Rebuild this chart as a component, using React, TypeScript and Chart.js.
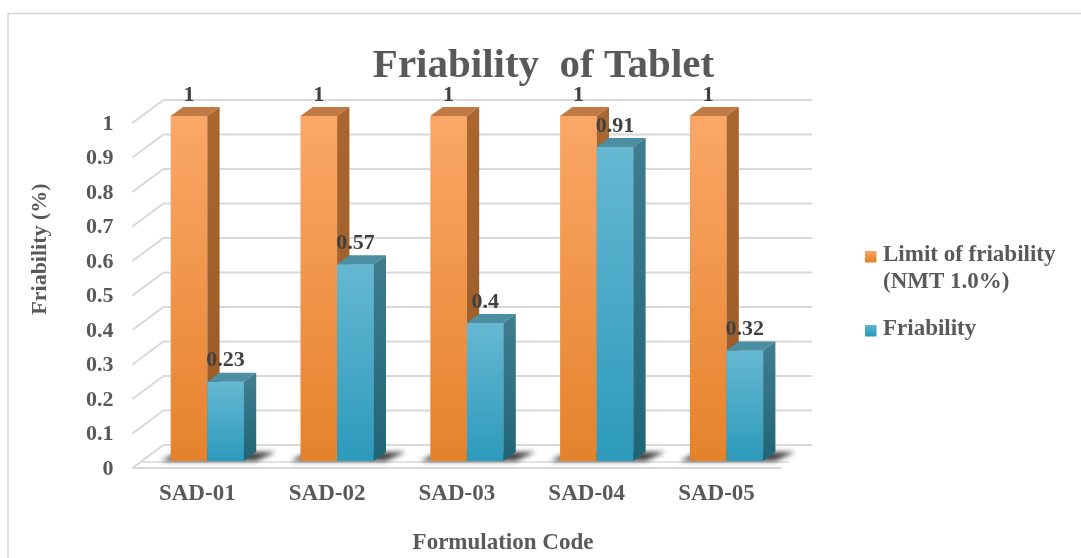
import { useEffect, useRef } from "react";
import { Chart, registerables } from "chart.js";

Chart.register(...registerables);

// ---- data ----
const categories = ["SAD-01", "SAD-02", "SAD-03", "SAD-04", "SAD-05"];
const limitValues = [1, 1, 1, 1, 1];
const friabilityValues = [0.23, 0.57, 0.4, 0.91, 0.32];
const seriesNames = ["Limit of friability (NMT 1.0%)", "Friability"];
const legendLines = [["Limit of friability", "(NMT 1.0%)"], ["Friability"]];
const titleText = "Friability  of Tablet";
const xTitle = "Formulation Code";
const yTitle = "Friability (%)";

// ---- styling ----
const FONT = '"Liberation Serif", "Times New Roman", serif';
const TEXT = "#595959";
const LABEL = "#404040";
const GRID = "#D9D9D9";

const ORANGE = { top: "#FBA767", bottom: "#E5822C", cap: "#C27A44", sideTop: "#A9662F", sideBottom: "#9A5A26" };
const BLUE = { top: "#66B8D2", bottom: "#2C9ABC", cap: "#4C8EA2", sideTop: "#3E7C8E", sideBottom: "#206577" };

// depth of each bar (top / side faces)
const BAR_DX = 12.3;
const BAR_DY = -9;
// wall depth and the shift of the front plane from the bar plane
const WALL_DX = 31;
const WALL_DY = -23;
const FRONT_DX = -10;
const FRONT_DY = 7;

const CANVAS_W = 1081;
const CANVAS_H = 558;

function frontGradient(chart: any, value: number, c: { top: string; bottom: string }) {
  const ys = chart.scales.y;
  const top = ys.getPixelForValue(value);
  const bottom = ys.getPixelForValue(0);
  const g = chart.ctx.createLinearGradient(0, top, 0, bottom);
  g.addColorStop(0, c.top);
  g.addColorStop(1, c.bottom);
  return g;
}

function barColor(c: typeof ORANGE) {
  return (ctx: any) => {
    if (!ctx.chart.chartArea || ctx.type !== "data") return c.top;
    return frontGradient(ctx.chart, ctx.parsed.y, c);
  };
}

function drawFaces(ctx: CanvasRenderingContext2D, el: any, c: typeof ORANGE) {
  const { x, y, base, width } = el.getProps(["x", "y", "base", "width"], true);
  const l = x - width / 2;
  const r = x + width / 2;
  // top face
  ctx.beginPath();
  ctx.moveTo(l, y);
  ctx.lineTo(l + BAR_DX, y + BAR_DY);
  ctx.lineTo(r + BAR_DX, y + BAR_DY);
  ctx.lineTo(r, y);
  ctx.closePath();
  ctx.fillStyle = c.cap;
  ctx.fill();
  // side face
  const g = ctx.createLinearGradient(0, y, 0, base);
  g.addColorStop(0, c.sideTop);
  g.addColorStop(1, c.sideBottom);
  ctx.beginPath();
  ctx.moveTo(r, y);
  ctx.lineTo(r + BAR_DX, y + BAR_DY);
  ctx.lineTo(r + BAR_DX, base + BAR_DY);
  ctx.lineTo(r, base);
  ctx.closePath();
  ctx.fillStyle = g;
  ctx.fill();
}

const frame3d = {
  id: "frame3d",
  beforeDraw(chart: any) {
    const ctx = chart.ctx;
    ctx.save();
    ctx.fillStyle = "#FFFFFF";
    ctx.fillRect(0, 0, chart.width, chart.height);
    // outer frame
    ctx.strokeStyle = "#D6D6D6";
    ctx.lineWidth = 1.5;
    ctx.beginPath();
    ctx.moveTo(8, chart.height + 5);
    ctx.lineTo(8, 13.5);
    ctx.lineTo(chart.width + 5, 13.5);
    ctx.stroke();
    ctx.restore();
  },
  beforeDatasetsDraw(chart: any) {
    const ctx = chart.ctx;
    const { left, right } = chart.chartArea;
    const ys = chart.scales.y;
    const fl = left + FRONT_DX;
    const fr = right + FRONT_DX;
    ctx.save();
    ctx.strokeStyle = GRID;
    ctx.lineWidth = 2;
    ys.ticks.forEach((t: any) => {
      const yf = ys.getPixelForValue(t.value) + FRONT_DY;
      const yb = yf + WALL_DY;
      ctx.beginPath();
      ctx.moveTo(fl, yf);
      ctx.lineTo(fl + WALL_DX, yb);
      ctx.lineTo(fr + WALL_DX, yb);
      ctx.stroke();
    });
    // floor
    const y0 = ys.getPixelForValue(0) + FRONT_DY;
    ctx.beginPath();
    ctx.moveTo(fl, y0);
    ctx.lineTo(fr, y0);
    ctx.stroke();
    ctx.lineWidth = 1.5;
    ctx.beginPath();
    ctx.moveTo(fl + 8, y0 - 6);
    ctx.lineTo(fr + 8, y0 - 6);
    ctx.stroke();

    // soft shadows cast on the floor behind each bar pair
    const m0 = chart.getDatasetMeta(0);
    const m1 = chart.getDatasetMeta(1);
    ctx.filter = "blur(2.5px)";
    ctx.fillStyle = "rgba(20,20,20,0.8)";
    m0.data.forEach((el: any, i: number) => {
      const a = el.getProps(["x", "width", "base"], true);
      const b = m1.data[i].getProps(["x", "width"], true);
      const l = a.x - a.width / 2;
      const r = b.x + b.width / 2;
      const base = a.base;
      ctx.beginPath();
      ctx.moveTo(l - 10, base);
      ctx.lineTo(r + 12, base);
      ctx.lineTo(r + 32, base - 9);
      ctx.lineTo(l + 8, base - 9);
      ctx.closePath();
      ctx.fill();
    });
    ctx.restore();
  },
  afterDatasetsDraw(chart: any) {
    const ctx = chart.ctx;
    const m0 = chart.getDatasetMeta(0);
    const m1 = chart.getDatasetMeta(1);
    ctx.save();
    m0.data.forEach((el: any) => drawFaces(ctx, el, ORANGE));
    m1.data.forEach((el: any) => {
      el.draw(ctx);
      drawFaces(ctx, el, BLUE);
    });
    // value labels
    ctx.fillStyle = LABEL;
    ctx.font = `bold 22px ${FONT}`;
    ctx.textAlign = "center";
    ctx.textBaseline = "middle";
    [m0, m1].forEach((meta: any, di: number) => {
      const values = di === 0 ? limitValues : friabilityValues;
      meta.data.forEach((el: any, i: number) => {
        const { x, y } = el.getProps(["x", "y"], true);
        ctx.fillText(String(values[i]), x, y - 21);
      });
    });
    ctx.restore();
  },
  afterDraw(chart: any) {
    const ctx = chart.ctx;
    ctx.save();
    ctx.fillStyle = TEXT;
    // title
    ctx.font = `bold 41px ${FONT}`;
    ctx.textAlign = "center";
    ctx.textBaseline = "alphabetic";
    ctx.fillText(titleText, 543.5, 77);
    // axis titles
    ctx.font = `bold 23px ${FONT}`;
    ctx.textBaseline = "middle";
    ctx.fillText(xTitle, 503, 543);
    ctx.save();
    ctx.translate(40, 249);
    ctx.rotate(-Math.PI / 2);
    ctx.font = `bold 22px ${FONT}`;
    ctx.fillText(yTitle, 0, 0);
    ctx.restore();
    // legend
    const swatches = [ORANGE, BLUE];
    const rows = [255, 329];
    ctx.textAlign = "left";
    ctx.font = `bold 23px ${FONT}`;
    legendLines.forEach((lines, i) => {
      const c = swatches[i];
      const yc = rows[i];
      const g = ctx.createLinearGradient(0, yc - 5, 0, yc + 6);
      g.addColorStop(0, c.top);
      g.addColorStop(1, c.bottom);
      ctx.fillStyle = g;
      ctx.fillRect(865, yc - 4, 11.5, 11.5);
      ctx.fillStyle = TEXT;
      lines.forEach((line, k) => ctx.fillText(line, 883, yc + k * 27));
    });
    ctx.restore();
  },
};

export default function App() {
  const ref = useRef<HTMLCanvasElement | null>(null);

  useEffect(() => {
    document.body.style.margin = "0";
    const canvas = ref.current;
    if (!canvas) return;
    const chart = new Chart(canvas, {
      type: "bar",
      data: {
        labels: categories,
        datasets: [
          {
            label: seriesNames[0],
            data: limitValues,
            backgroundColor: barColor(ORANGE),
            borderWidth: 0,
            categoryPercentage: 0.564,
            barPercentage: 1,
          },
          {
            label: seriesNames[1],
            data: friabilityValues,
            backgroundColor: barColor(BLUE),
            borderWidth: 0,
            categoryPercentage: 0.564,
            barPercentage: 1,
          },
        ],
      },
      options: {
        responsive: false,
        animation: false,
        devicePixelRatio: 1,
        events: [],
        layout: { padding: { left: 0, top: 116, right: CANVAS_W - 791.4, bottom: CANVAS_H - 461 - 60 } },
        plugins: {
          legend: { display: false },
          title: { display: false },
          tooltip: { enabled: false },
        },
        scales: {
          x: {
            grid: { display: false, drawTicks: false },
            border: { display: false },
            ticks: {
              color: TEXT,
              font: { family: FONT, size: 23, weight: "bold" },
              padding: 19,
              labelOffset: -10,
              maxRotation: 0,
            },
            afterFit: (s: any) => {
              s.height = 60;
            },
          },
          y: {
            min: 0,
            max: 1,
            grid: { display: false, drawTicks: false },
            border: { display: false },
            ticks: {
              stepSize: 0.1,
              color: TEXT,
              font: { family: FONT, size: 22, weight: "bold" },
              padding: 29,
              labelOffset: 8,
              callback: (v: any) => String(Number(Number(v).toFixed(1))),
            },
            afterFit: (s: any) => {
              s.width = 142.4;
            },
          },
        },
      },
      plugins: [frame3d],
    });
    return () => chart.destroy();
  }, []);

  return <canvas ref={ref} width={CANVAS_W} height={CANVAS_H} style={{ display: "block" }} />;
}
